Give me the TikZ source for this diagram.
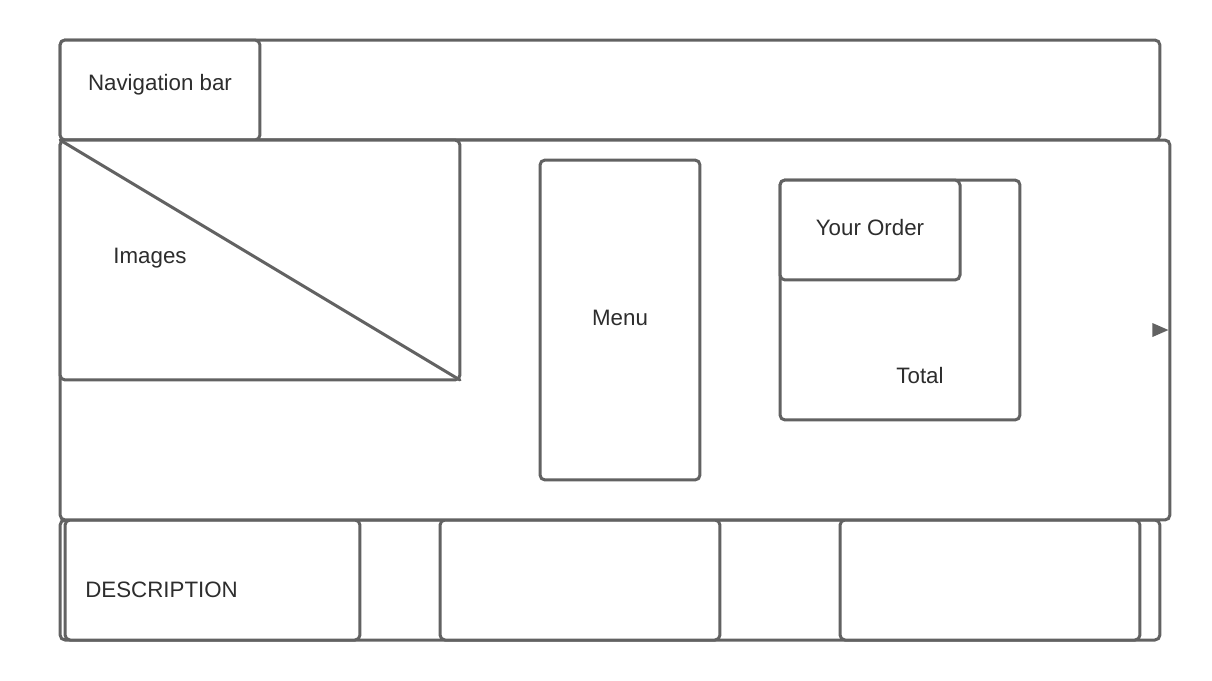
\documentclass[tikz,border=0pt]{standalone}
\usepackage{fontspec}
\setmainfont{Liberation Sans}
\definecolor{linegray}{RGB}{98,98,98}
\definecolor{textgray}{RGB}{45,45,45}
\begin{document}
\begin{tikzpicture}[x=0.02cm,y=-0.02cm,
  box/.style={draw=linegray, line width=0.06cm, rounded corners=0.1cm, fill=white, inner sep=0pt, outer sep=0pt},
  lbl/.style={text=textgray, font=\fontsize{12.7pt}{15pt}\selectfont, inner sep=0pt}]
\useasboundingbox (0,0) rectangle (1212,680);
% top strip
\node[box, minimum width=22cm, minimum height=2cm] (topbox) at (610,90) {};
\node[box, minimum width=4cm, minimum height=2cm] (nav) at (160,90) {};
\node[lbl] (navtxt) at (160,85) {Navigation bar};
% bottom strip
\node[box, minimum width=22cm, minimum height=2.4cm] (bottom) at (610,580) {};
\node[box, minimum width=5.9cm, minimum height=2.4cm] (desc) at (212.5,580) {};
\node[box, minimum width=5.6cm, minimum height=2.4cm] (b2) at (580,580) {};
\node[box, minimum width=6cm, minimum height=2.4cm] (b3) at (990,580) {};
\node[lbl, anchor=west] (desctxt) at (85,590) {DESCRIPTION};
% main area
\node[box, minimum width=22.2cm, minimum height=7.6cm] (main) at (615,330) {};
\node[box, minimum width=8cm, minimum height=4.8cm] (images) at (260,260) {};
\draw[draw=linegray, line width=0.06cm, line cap=round] (images.north west) -- (images.south east);
\node[lbl] (imgtxt) at (150,258) {Images};
\node[box, minimum width=3.2cm, minimum height=6.4cm] (menu) at (620,320) {};
\node[lbl] (menutxt) at (620,318) {Menu};
\node[box, minimum width=4.8cm, minimum height=4.8cm] (order) at (900,300) {};
\node[box, minimum width=3.6cm, minimum height=2cm] (yourorder) at (870,230) {};
\node[lbl] (ordertxt) at (870,228) {Your Order};
\node[lbl] (totaltxt) at (920,376) {Total};
% arrowhead on right edge
\coordinate (tip) at ([xshift=-0.03cm]main.east);
\fill[linegray] (tip) -- ++(-16,-7) -- ++(0,14) -- cycle;
\end{tikzpicture}
\end{document}
